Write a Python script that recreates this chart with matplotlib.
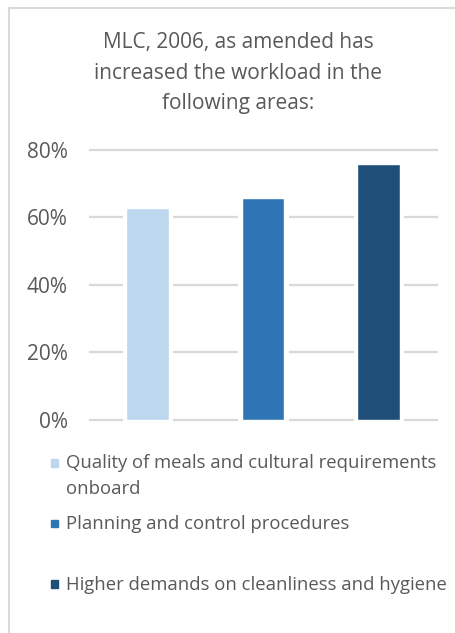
import matplotlib.pyplot as plt
from matplotlib.lines import Line2D
from matplotlib.patches import Rectangle

# ============================================================
# DATA
# ============================================================

TITLE = "MLC, 2006, as amended has\nincreased the workload in the\nfollowing areas:"

categories = [
    "Quality of meals and cultural requirements\nonboard",
    "Planning and control procedures",
    "Higher demands on cleanliness and hygiene",
]

values = [62.5, 65.5, 75.5]

bar_colors = ["#BDD7EE", "#2E75B6", "#1F4E79"]

y_ticks = [0, 20, 40, 60, 80]
y_tick_labels = ["0%", "20%", "40%", "60%", "80%"]

# ============================================================
# STYLE
# ============================================================

W, H = 456, 633
DPI = 100

TEXT_COLOR = "#595959"
GRID_COLOR = "#D9D9D9"
FONT = "Open Sans"

TITLE_SIZE = 15
TICK_SIZE = 15
LEGEND_SIZE = 13.3

plt.rcParams["font.family"] = [FONT, "DejaVu Sans"]


def fx(px):
    return px / W


def fy(py):
    return 1 - py / H


# ============================================================
# FIGURE
# ============================================================

fig = plt.figure(figsize=(W / DPI, H / DPI), dpi=DPI)

# plot area in pixels: x 90..437, y 150 (80%) .. 419.7 (0%)
ax = fig.add_axes([fx(90), fy(419.7), fx(437 - 90), (419.7 - 150) / H])

x = list(range(len(values)))

# white backing so gridlines stop short of the bars
ax.bar(x, [v + 1.2 for v in values], width=0.435, bottom=-1.2,
       color="white", zorder=2, clip_on=False)

ax.bar(x, values, width=0.363, color=bar_colors, zorder=3,
       edgecolor="white", linewidth=0.3)

ax.set_xlim(-0.5, len(values) - 0.5)
ax.set_ylim(0, 80)

ax.set_yticks(y_ticks)
ax.set_yticklabels(y_tick_labels)
ax.set_xticks([])

for t in y_ticks:
    ax.axhline(t, color=GRID_COLOR, linewidth=1.6, zorder=1, clip_on=False)

ax.tick_params(axis="y", length=0, pad=16, labelsize=TICK_SIZE,
               labelcolor=TEXT_COLOR)

for spine in ax.spines.values():
    spine.set_visible(False)

# ============================================================
# TITLE
# ============================================================

fig.text(fx(238), fy(32), TITLE, ha="center", va="top",
         fontsize=TITLE_SIZE, color=TEXT_COLOR, linespacing=1.6)

# ============================================================
# LEGEND (drawn by hand, two-line slots like the original)
# ============================================================

for i, label in enumerate(categories):

    y_center = 463 + 60.5 * i

    fig.patches.append(Rectangle(
        (fx(51), fy(y_center + 3.6)), fx(7.2), 7.2 / H,
        transform=fig.transFigure, color=bar_colors[i], figure=fig
    ))

    fig.text(fx(66), fy(y_center - 8.5), label, ha="left", va="top",
             fontsize=LEGEND_SIZE, color=TEXT_COLOR, linespacing=1.52)

# ============================================================
# CHART FRAME
# ============================================================

fig.lines.append(Line2D([fx(9), 1.0], [fy(8), fy(8)],
                        transform=fig.transFigure,
                        color=GRID_COLOR, linewidth=1.5))

fig.lines.append(Line2D([fx(9), fx(9)], [fy(8), 0.0],
                        transform=fig.transFigure,
                        color=GRID_COLOR, linewidth=1.5))

fig.savefig("out.png", dpi=DPI)
